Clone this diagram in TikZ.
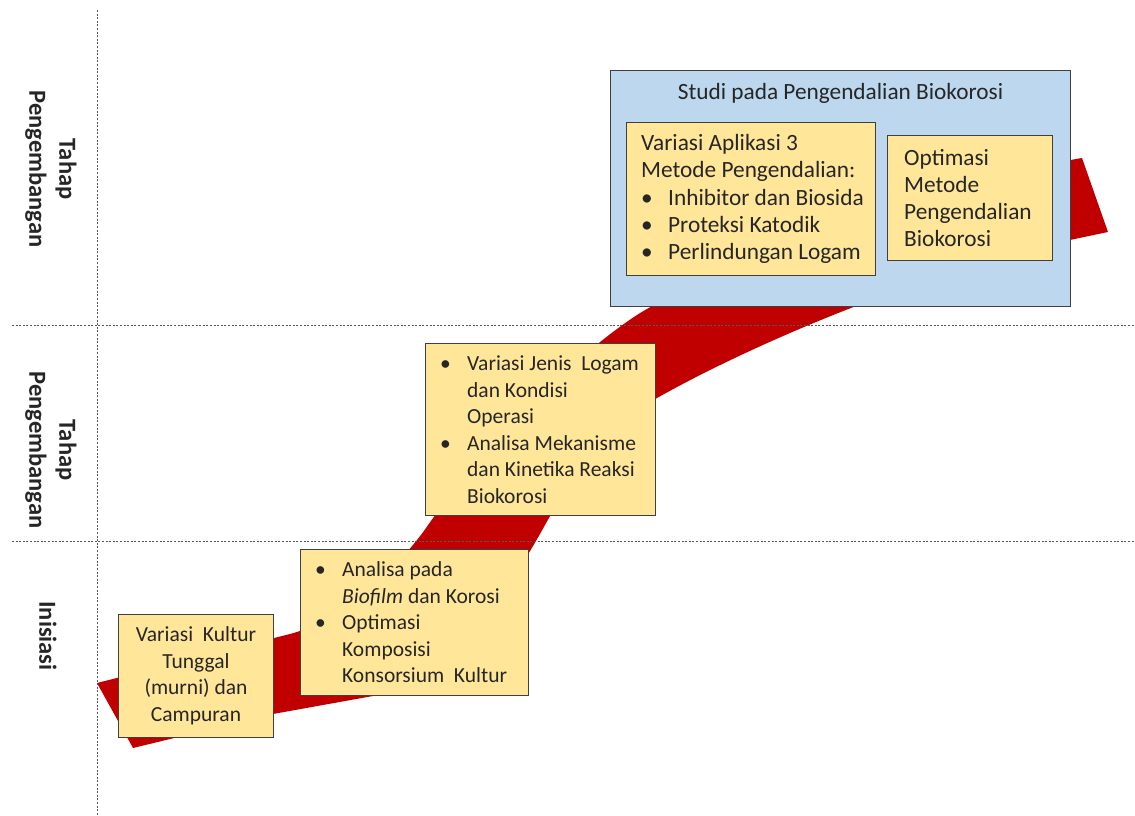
\documentclass[tikz,border=0pt]{standalone}
\usepackage{fontspec}
\setmainfont{Carlito}
\usetikzlibrary{positioning}
\definecolor{bandred}{HTML}{C00000}
\definecolor{cardyellow}{HTML}{FFE699}
\definecolor{panelblue}{HTML}{BDD7EE}
\definecolor{edgegray}{HTML}{3F3F3F}
\definecolor{guidegray}{HTML}{595959}
\definecolor{txtdark}{HTML}{262626}
\newcommand{\bul}{\makebox[27pt][l]{\textbullet}}
\newcommand{\ind}{\hspace*{27pt}}

\begin{document}
\begin{tikzpicture}[x=1pt, y=-1pt,
    font=\fontsize{21.5}{26.5}\selectfont, text=txtdark,
    card/.style={draw=edgegray, fill=cardyellow, line width=1pt, anchor=north west, inner sep=0pt},
    panel/.style={draw=edgegray, fill=panelblue, line width=1pt, anchor=north west, inner sep=0pt},
    cardtext/.style={anchor=west, align=left, inner sep=0pt},
    bigtext/.style={font=\fontsize{23.3}{27.2}\selectfont},
    guide/.style={draw=guidegray, line width=1pt, dash pattern=on 2pt off 1.6pt},
    stage/.style={rotate=-90, align=center, font=\fontsize{24.5}{30}\selectfont\bfseries}]
  \useasboundingbox (0,0) rectangle (1135,816);

  % pita merah di belakang
  \fill[bandred] (97,683) -- (290,634)
      .. controls (340,621) and (398,568) .. (426,528)
      .. controls (486,442) and (577,354) .. (637,315)
      .. controls (700,274) and (950,180) .. (1082,158)
    -- (1108,232) -- (1070,240)
      .. controls (930,270) and (760,340) .. (657,398)
      .. controls (600,432) and (570,480) .. (545,525)
      .. controls (495,615) and (440,685) .. (373,696)
    -- (273,714) -- (133,748) -- cycle;

  % garis bantu
  \coordinate (vtop) at (97,10);
  \coordinate (vbot) at (97,816);
  \coordinate (aleft) at (12,325);
  \coordinate (aright) at (1135,325);
  \coordinate (bleft) at (12,541);
  \coordinate (bright) at (1135,541);
  \draw[guide] (vtop) -- (vbot);
  \draw[guide] (aleft) -- (aright);
  \draw[guide] (bleft) -- (bright);

  % label tahap
  \node[stage] (tahapA) at (51,169) {Tahap\\Pengembangan};
  \node[stage] (tahapB) at (51,450) {Tahap\\Pengembangan};
  \node[stage] (inisiasi) at (48,636) {Inisiasi};

  % kotak inisiasi
  \node[card, minimum width=155, minimum height=123] (kultur) at (118,614) {};
  \node[align=center, inner sep=0pt] (kulturtxt) at (kultur.center)
    {Variasi~ Kultur\\Tunggal\\(murni) dan\\Campuran};

  \node[card, minimum width=228, minimum height=146] (biofilm) at (300,549) {};
  \node[cardtext, xshift=15pt] (biofilmtxt) at (biofilm.west)
    {\bul Analisa pada\\\ind\textit{Biofilm} dan Korosi\\\bul Optimasi\\\ind Komposisi\\\ind Konsorsium~ Kultur};

  % kotak pengembangan
  \node[card, minimum width=230, minimum height=172] (logam) at (425,343) {};
  \node[cardtext, xshift=15pt] (logamtxt) at (logam.west)
    {\bul Variasi Jenis~ Logam\\\ind dan Kondisi\\\ind Operasi\\\bul Analisa Mekanisme\\\ind dan Kinetika Reaksi\\\ind Biokorosi};

  % panel pengendalian
  \node[panel, minimum width=460, minimum height=236] (ctrl) at (610,70) {};
  \node[bigtext, below=10pt of ctrl.north, inner sep=3pt] (ctrltitle) {Studi pada Pengendalian Biokorosi};

  \node[card, minimum width=249, minimum height=153] (metode) at (626,122) {};
  \node[cardtext, bigtext, xshift=15pt] (metodetxt) at (metode.west)
    {Variasi Aplikasi 3\\Metode Pengendalian:\\\bul Inhibitor dan Biosida\\\bul Proteksi Katodik\\\bul Perlindungan Logam};

  \node[card, minimum width=165, minimum height=125] (optimasi) at (887,135) {};
  \node[cardtext, bigtext, xshift=17pt] (optimasitxt) at (optimasi.west)
    {Optimasi\\Metode\\Pengendalian\\Biokorosi};
\end{tikzpicture}
\end{document}
